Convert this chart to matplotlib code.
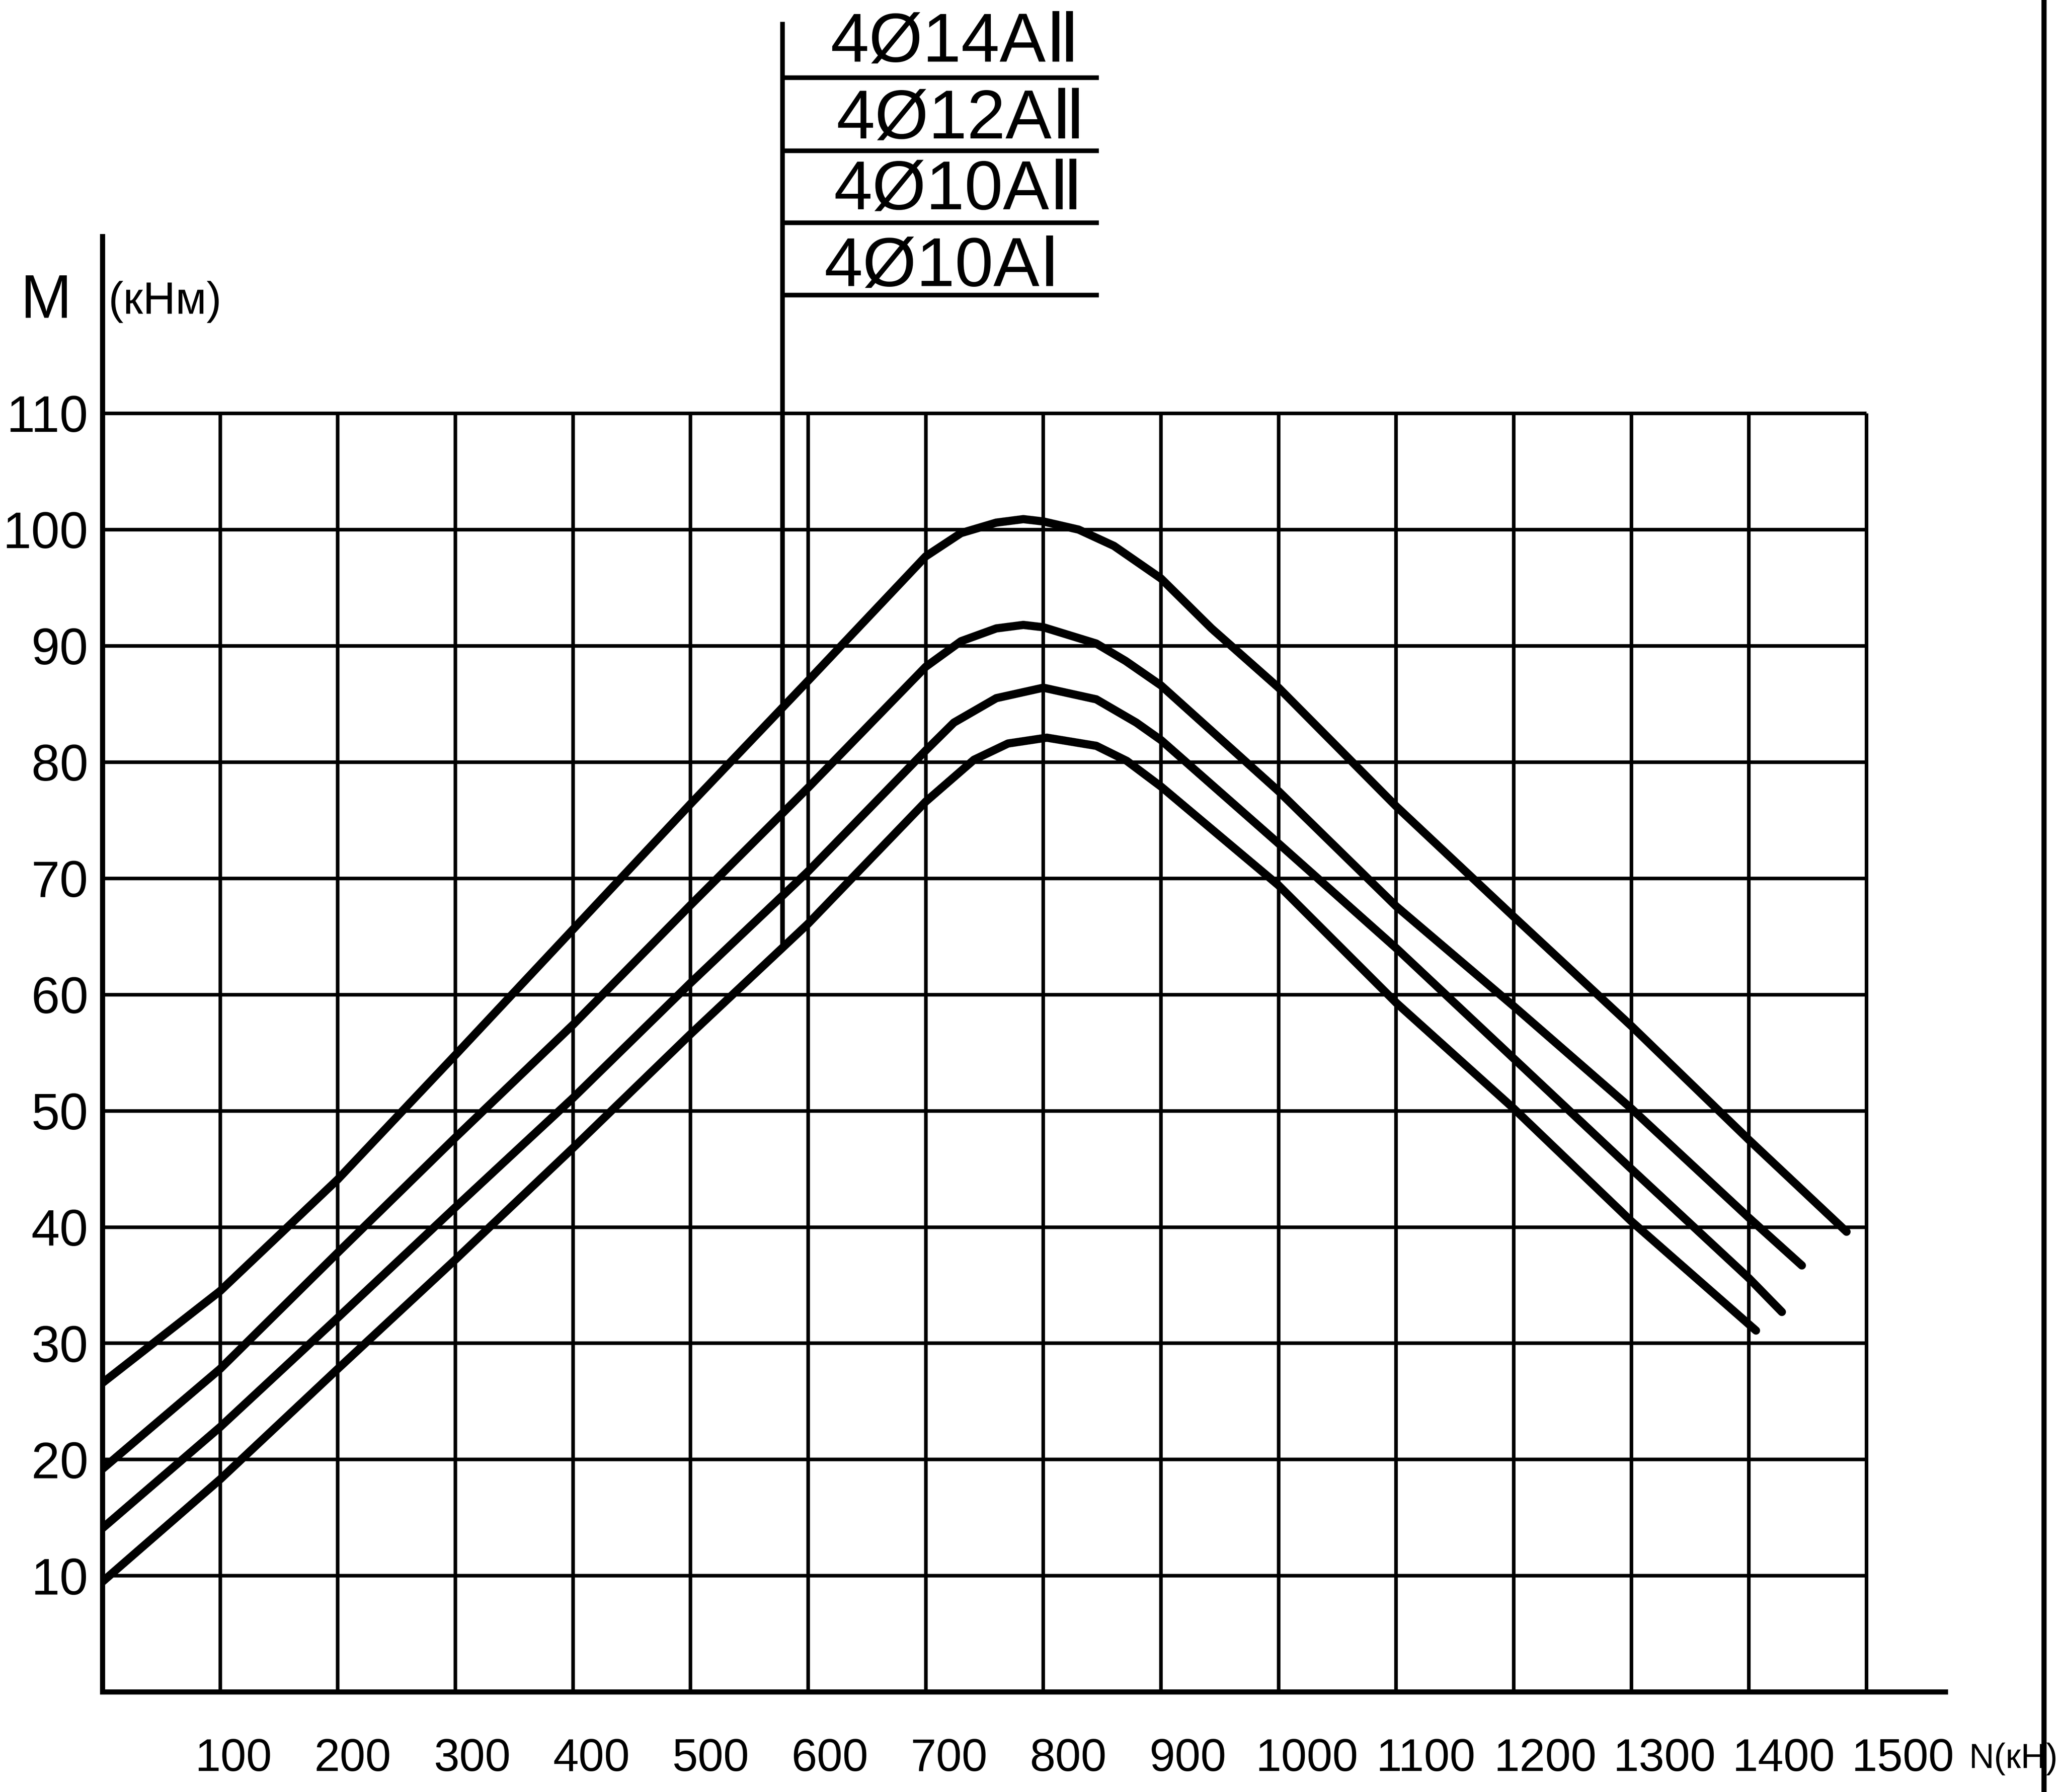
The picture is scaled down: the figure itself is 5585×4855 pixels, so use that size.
import numpy as np
import matplotlib.pyplot as plt
from matplotlib.lines import Line2D

plt.rcParams['font.family'] = ['Liberation Sans', 'DejaVu Sans']

# --- data ---
labels = ["4Ø14AⅡ", "4Ø12AⅡ", "4Ø10AⅡ", "4Ø10AⅠ"]

n_14AII = [0, 100, 200, 300, 400, 500, 600, 700, 730, 760, 783, 800, 830, 860, 900, 943, 1000, 1100, 1200, 1300, 1400, 1483]
m_14AII = [26.6, 34.5, 44.1, 54.8, 65.6, 76.4, 87.0, 97.7, 99.7, 100.6, 100.9, 100.7, 100.0, 98.6, 95.8, 91.5, 86.4, 76.2, 66.7, 57.3, 47.5, 39.6]

n_12AII = [0, 100, 200, 300, 400, 500, 600, 700, 730, 760, 783, 800, 845, 870, 900, 1000, 1100, 1200, 1300, 1400, 1445]
m_12AII = [19.2, 27.8, 37.8, 47.7, 57.4, 67.7, 77.8, 88.2, 90.4, 91.5, 91.8, 91.6, 90.2, 88.7, 86.6, 77.5, 67.6, 59.0, 50.2, 40.8, 36.7]

n_10AII = [0, 100, 200, 300, 400, 500, 600, 700, 724, 760, 800, 845, 879, 900, 1000, 1100, 1200, 1300, 1400, 1428]
m_10AII = [14.1, 22.8, 32.2, 41.7, 51.1, 61.0, 70.6, 81.0, 83.4, 85.5, 86.4, 85.4, 83.4, 81.9, 73.0, 64.0, 54.5, 45.0, 35.6, 32.7]

n_10AI = [0, 100, 200, 300, 400, 500, 600, 700, 741, 770, 803, 845, 871, 900, 1000, 1100, 1200, 1300, 1406]
m_10AI = [9.5, 18.3, 27.8, 37.2, 46.8, 56.6, 66.1, 76.6, 80.2, 81.6, 82.1, 81.4, 80.1, 77.9, 69.4, 59.3, 50.2, 40.5, 31.1]

x_ticks = list(range(100, 1600, 100))
y_ticks = list(range(10, 120, 10))

series = [(n_14AII, m_14AII), (n_12AII, m_12AII), (n_10AII, m_10AII), (n_10AI, m_10AI)]

fig = plt.figure(figsize=(55.85, 48.55), dpi=100)
ax = fig.add_axes([78 / 1568, 1 - 1287 / 1363, 1402 / 1568, 1107 / 1363])
ax.set_xlim(0, 1567)
ax.set_ylim(0, 125.2)

# grid stops at 1500 / 110 like the drawing
ax.vlines(x_ticks, 0, 110, color='black', lw=7)
ax.hlines(y_ticks, 0, 1500, color='black', lw=7)

# curves
for n, m in series:
    ax.plot(n, m, color='black', lw=16, solid_capstyle='round', solid_joinstyle='round')

for s in ['top', 'right']:
    ax.spines[s].set_visible(False)
for s in ['left', 'bottom']:
    ax.spines[s].set_linewidth(10)

ax.set_yticks(y_ticks)
ax.set_yticklabels([str(v) for v in y_ticks], fontsize=100)
ax.set_xticks([])
ax.tick_params(axis='y', length=0, pad=28)

# x labels drift slightly right of the grid lines, as drawn
for v in x_ticks:
    ax.text(v * 1.014 + 10, -0.046, str(v), transform=ax.get_xaxis_transform(),
            ha='center', va='center', fontsize=90)
ax.text(1587, -0.046, "N(кН)", transform=ax.get_xaxis_transform(),
        ha='left', va='center', fontsize=68, clip_on=False)

# axis label M (кНм)
ax.text(-48, 119.6, "M", ha='center', va='center', fontsize=120, clip_on=False)
ax.text(53, 119.6, "(кНм)", ha='center', va='center', fontsize=88, clip_on=False)

# legend table drawn by hand above the chart
ax.plot([578, 578], [64.5, 143.5], color='black', lw=9, clip_on=False)
legend_y = [138.9, 132.6, 126.4, 120.2]
text_y = [141.8, 135.2, 129.1, 122.5]
text_x = [725, 730, 728, 714]
for lab, ly, ty, tx in zip(labels, legend_y, text_y, text_x):
    ax.plot([580, 845], [ly, ly], color='black', lw=9, clip_on=False)
    ax.text(tx, ty, lab, ha='center', va='center', fontsize=135, clip_on=False)

# scan border at the right edge
fig.add_artist(Line2D([1555 / 1568, 1555 / 1568], [0, 1], color='black', lw=10))

fig.savefig("out.png", dpi=100, facecolor='white')
